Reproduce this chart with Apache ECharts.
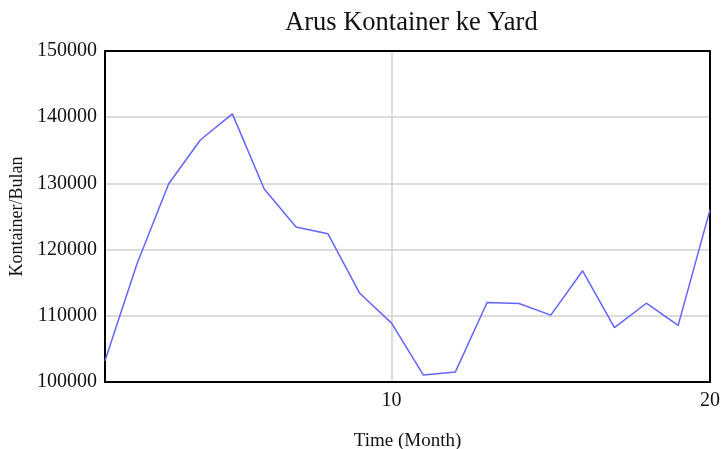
<!DOCTYPE html>
<html>
<head>
<meta charset="utf-8">
<script src="https://cdn.jsdelivr.net/npm/echarts@6/dist/echarts.min.js"></script>
<style>html,body{margin:0;padding:0;background:#fff;}#c{width:721px;height:449px;}</style>
</head>
<body>
<div id="c"></div>
<script>
const months = [1,2,3,4,5,6,7,8,9,10,11,12,13,14,15,16,17,18,19,20];
const arusKontainer = [103200,117800,129950,136600,140500,129150,123400,122400,113400,108900,101050,101500,112000,111850,110100,116800,108200,111900,108550,126000];
const xTickLabels = [10,20];
const yTicks = [100000,110000,120000,130000,140000,150000];

const chart = echarts.init(document.getElementById('c'), null, {renderer:'canvas'});
const serif = '"Liberation Serif","Times New Roman",serif';
const frame = {show:true,lineStyle:{color:'#000',width:2}};
chart.setOption({
  animation:false,
  backgroundColor:'#fff',
  title:{text:'Arus Kontainer ke Yard',left:280,top:5,textStyle:{fontFamily:serif,fontSize:26.5,fontWeight:'normal',color:'#111'}},
  grid:{left:105,right:11,top:51,bottom:67,outerBoundsMode:'none',containLabel:false},
  xAxis:[{type:'value',min:1,max:20,position:'bottom',
    name:'Time (Month)',nameLocation:'middle',nameGap:50,
    nameTextStyle:{fontFamily:serif,fontSize:19,color:'#111'},
    axisLine:frame,
    axisTick:{show:false,customValues:xTickLabels},
    axisLabel:{customValues:xTickLabels,fontFamily:serif,fontSize:20,color:'#111',margin:9},
    splitLine:{show:true,lineStyle:{color:'#d0d0d0',width:1.5}}
  },{type:'value',min:1,max:20,position:'top',axisLine:frame,axisTick:{show:false},axisLabel:{show:false},splitLine:{show:false}}],
  yAxis:[{type:'value',min:yTicks[0],max:yTicks[yTicks.length-1],interval:10000,position:'left',
    name:'Kontainer/Bulan',nameLocation:'middle',nameGap:78,
    nameTextStyle:{fontFamily:serif,fontSize:18,color:'#111'},
    axisLine:frame,axisTick:{show:false},
    axisLabel:{fontFamily:serif,fontSize:20,color:'#111',margin:8,formatter:v=>String(v)},
    splitLine:{show:true,lineStyle:{color:'#d0d0d0',width:1.5}}
  },{type:'value',min:yTicks[0],max:yTicks[yTicks.length-1],interval:10000,position:'right',axisLine:frame,axisTick:{show:false},axisLabel:{show:false},splitLine:{show:false}}],
  series:[{type:'line',data:months.map((m,i)=>[m,arusKontainer[i]]),showSymbol:false,
    lineStyle:{color:'#6464ff',width:1.5},itemStyle:{color:'#6464ff'}}]
});
</script>
</body>
</html>
